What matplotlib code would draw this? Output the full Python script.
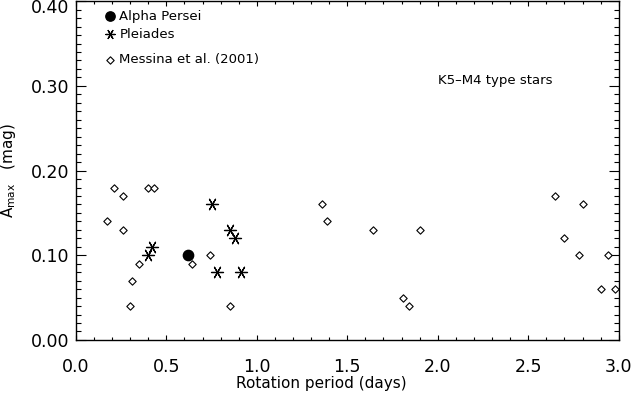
import numpy as np
import matplotlib
matplotlib.use("Agg")
import matplotlib.pyplot as plt
from matplotlib.ticker import MultipleLocator, FuncFormatter

# Messina et al. (2001)
mes_p = [0.17, 0.21, 0.26, 0.26, 0.30, 0.31, 0.35, 0.40, 0.43, 0.64, 0.74, 0.85,
         1.36, 1.39, 1.64, 1.81, 1.84, 1.90, 2.65, 2.70, 2.78, 2.80, 2.90, 2.94, 2.98]
mes_a = [0.14, 0.18, 0.17, 0.13, 0.04, 0.07, 0.09, 0.18, 0.18, 0.09, 0.10, 0.04,
         0.16, 0.14, 0.13, 0.05, 0.04, 0.13, 0.17, 0.12, 0.10, 0.16, 0.06, 0.10, 0.06]

# Pleiades
ple_p = [0.40, 0.42, 0.75, 0.78, 0.85, 0.88, 0.91]
ple_a = [0.10, 0.11, 0.16, 0.08, 0.13, 0.12, 0.08]

# Alpha Persei
apr_p = [0.62]
apr_a = [0.10]

star = (6, 2, 90)
fs = 11
fig = plt.figure(figsize=(6.32, 3.93), dpi=100)
ax = fig.add_axes([0.12, 0.135, 0.859, 0.862])

ax.scatter(mes_p, mes_a, marker='D', s=14, facecolors='white', edgecolors='black',
           linewidths=0.8, zorder=3)
ax.scatter(ple_p, ple_a, marker=star, s=75, color='black', linewidths=0.9, zorder=3)
ax.scatter(apr_p, apr_a, marker='o', s=55, color='black', zorder=3)

ax.set_xlim(0, 3.0)
ax.set_ylim(0, 0.40)
ax.xaxis.set_major_locator(MultipleLocator(0.5))
ax.xaxis.set_minor_locator(MultipleLocator(0.1))
ax.yaxis.set_major_locator(MultipleLocator(0.1))
ax.yaxis.set_minor_locator(MultipleLocator(0.01))
ax.xaxis.set_major_formatter(plt.FormatStrFormatter('%.1f'))
# the top label is drawn separately so it stays inside the figure
ax.yaxis.set_major_formatter(FuncFormatter(lambda v, p: '' if v > 0.395 else '%.2f' % v))

ax.tick_params(axis='both', which='both', direction='in', top=True, right=True,
               width=0.8, labelsize=12.5, colors='black')
ax.tick_params(axis='x', which='major', length=3.6, pad=13)
ax.tick_params(axis='x', which='minor', length=2.2)
ax.tick_params(axis='y', which='major', length=7.2, pad=5)
ax.tick_params(axis='y', which='minor', length=3.6)
for s in ax.spines.values():
    s.set_linewidth(1.0)

ax.annotate('0.40', xy=(0, 0.40), xycoords='data', xytext=(-5, -5),
            textcoords='offset points', ha='right', va='center', fontsize=12.5)

ax.set_xlabel('Rotation period (days)', fontsize=fs)
ax.xaxis.set_label_coords(0.453, -0.105)
ax.set_ylabel(r'A$_{\rm max}$   (mag)', fontsize=fs, labelpad=9)

# legend drawn by hand, IDL style
lx = 0.19
ax.scatter([lx], [0.382], marker='o', s=45, color='black')
ax.text(lx + 0.05, 0.382, 'Alpha Persei', fontsize=fs - 1.5, va='center')
ax.scatter([lx], [0.361], marker=star, s=45, color='black', linewidths=0.9)
ax.text(lx + 0.05, 0.361, 'Pleiades', fontsize=fs - 1.5, va='center')
ax.scatter([lx], [0.331], marker='D', s=14, facecolors='white', edgecolors='black',
           linewidths=0.8)
ax.text(lx + 0.05, 0.331, 'Messina et al. (2001)', fontsize=fs - 1.5, va='center')

ax.text(2.0, 0.306, 'K5\u2013M4 type stars', fontsize=fs - 1.5, va='center')

fig.savefig('out.png', dpi=100)
